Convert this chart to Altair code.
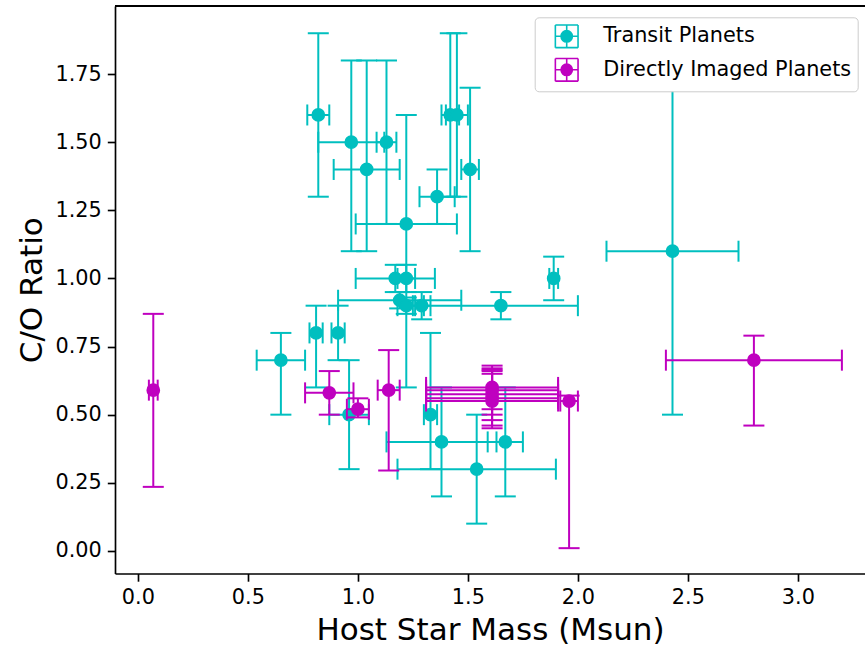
import altair as alt
import pandas as pd

# Transit planets: host mass (Msun) with symmetric error, C/O with lower/upper errors
transit_mass = [0.82, 0.97, 1.13, 1.04, 1.22, 1.36, 1.42, 1.45, 1.51,
                1.17, 1.22, 1.19, 1.22, 1.29, 1.65, 1.89,
                0.81, 0.91, 0.65, 0.96, 1.33, 1.38, 1.67, 1.54, 2.43]
transit_mass_err = [0.05, 0.15, 0.045, 0.15, 0.23, 0.08, 0.04, 0.05, 0.04,
                    0.18, 0.04, 0.28, 0.04, 0.04, 0.35, 0.02,
                    0.03, 0.03, 0.11, 0.09, 0.03, 0.25, 0.08, 0.36, 0.30]
transit_co = [1.60, 1.50, 1.50, 1.40, 1.20, 1.30, 1.60, 1.60, 1.40,
              1.00, 1.00, 0.92, 0.90, 0.90, 0.90, 1.00,
              0.80, 0.80, 0.70, 0.50, 0.50, 0.40, 0.40, 0.30, 1.10]
transit_co_lo = [0.30, 0.40, 0.30, 0.30, 0.60, 0.10, 0.30, 0.30, 0.30,
                 0.05, 0.05, 0.03, 0.03, 0.05, 0.05, 0.08,
                 0.20, 0.10, 0.20, 0.20, 0.20, 0.20, 0.20, 0.20, 0.60]
transit_co_hi = [0.30, 0.30, 0.30, 0.40, 0.40, 0.10, 0.30, 0.30, 0.30,
                 0.05, 0.05, 0.03, 0.03, 0.05, 0.05, 0.08,
                 0.10, 0.10, 0.10, 0.20, 0.30, 0.20, 0.20, 0.20, 0.60]

# Directly imaged planets
imaged_mass = [0.07, 0.87, 1.00, 1.14, 1.61, 1.61, 1.61, 1.61, 1.61, 1.96, 2.80]
imaged_mass_err = [0.02, 0.11, 0.05, 0.05, 0.30, 0.30, 0.30, 0.30, 0.30, 0.04, 0.40]
imaged_co = [0.59, 0.58, 0.52, 0.59, 0.60, 0.59, 0.575, 0.56, 0.55, 0.55, 0.70]
imaged_co_lo = [0.355, 0.08, 0.03, 0.295, 0.08, 0.09, 0.095, 0.10, 0.10, 0.54, 0.24]
imaged_co_hi = [0.28, 0.08, 0.04, 0.147, 0.08, 0.08, 0.09, 0.10, 0.10, 0.02, 0.09]

groups = ["Transit Planets", "Directly Imaged Planets"]
colors = ["#00BFBF", "#BF00BF"]


def frame(mass, merr, co, lo, hi, name):
    return pd.DataFrame({
        "mass": mass,
        "mass_lo": [m - e for m, e in zip(mass, merr)],
        "mass_hi": [m + e for m, e in zip(mass, merr)],
        "co": co,
        "co_lo": [c - e for c, e in zip(co, lo)],
        "co_hi": [c + e for c, e in zip(co, hi)],
        "group": name,
    })


df = pd.concat([
    frame(transit_mass, transit_mass_err, transit_co, transit_co_lo, transit_co_hi, groups[0]),
    frame(imaged_mass, imaged_mass_err, imaged_co, imaged_co_lo, imaged_co_hi, groups[1]),
], ignore_index=True)

W, H = 750, 567.5
xscale = alt.Scale(domain=[-0.104, 3.305], nice=False, zero=False)
yscale = alt.Scale(domain=[-0.083, 2.0], nice=False, zero=False)
xaxis = alt.Axis(values=[0, 0.5, 1.0, 1.5, 2.0, 2.5, 3.0], format=".1f", grid=False)
yaxis = alt.Axis(values=[0, 0.25, 0.5, 0.75, 1.0, 1.25, 1.5, 1.75], format=".2f", grid=False)
cscale = alt.Scale(domain=groups, range=colors)

XT = "Host Star Mass (Msun)"
YT = "C/O Ratio"


def X(f):
    return alt.X(f, type="quantitative", scale=xscale, axis=xaxis, title=XT)


def Y(f):
    return alt.Y(f, type="quantitative", scale=yscale, axis=yaxis, title=YT)


# errorbar-style legend glyph: cap box, cross and a filled dot
glyph = ("M-1,-1H1M1,-1V1M1,1H-1M-1,1V-1M0,-1V1M-1,0H1"
         "M0.5,0A0.5,0.5,0,1,1,-0.5,0A0.5,0.5,0,1,1,0.5,0Z")
leg = alt.Legend(
    title=None, orient="none", legendX=419.7, legendY=11.3,
    symbolType=glyph, symbolSize=515, symbolStrokeWidth=1.6,
    fillColor="white", strokeColor="#cccccc", cornerRadius=4,
    padding=6.5, rowPadding=2.5, symbolOffset=13, labelOffset=24,
    labelFont="DejaVu Sans", labelFontSize=20.8, labelColor="black", labelLimit=500,
)


def layers(name, colour):
    base = alt.Chart(df).transform_filter(alt.datum.group == name)
    vbar = base.mark_rule(strokeWidth=2, color=colour).encode(
        x=X("mass"), y=Y("co_lo"), y2="co_hi")
    hbar = base.mark_rule(strokeWidth=2, color=colour).encode(
        x=X("mass_lo"), x2="mass_hi", y=Y("co"))
    vcap = base.transform_fold(["co_lo", "co_hi"], as_=["end", "cap"]).mark_tick(
        orient="horizontal", size=21, thickness=2, opacity=1, color=colour
    ).encode(x=X("mass"), y=Y("cap"))
    hcap = base.transform_fold(["mass_lo", "mass_hi"], as_=["end", "cap"]).mark_tick(
        orient="vertical", size=21, thickness=2, opacity=1, color=colour
    ).encode(x=X("cap"), y=Y("co"))
    pts = base.mark_point(filled=True, size=150, strokeWidth=1.5, opacity=1).encode(
        x=X("mass"), y=Y("co"),
        fill=alt.Fill("group:N", scale=cscale, legend=leg),
        stroke=alt.Stroke("group:N", scale=cscale, legend=leg),
    )
    return [vbar, hbar, vcap, hcap, pts]


# top frame line (the plot has no right spine)
top = alt.Chart(df).mark_rule(color="black", strokeWidth=1.67).encode(
    y=alt.value(0), x=alt.value(0), x2=alt.value(W)
)

chart = alt.layer(
    *layers(groups[0], colors[0]), *layers(groups[1], colors[1]), top
).properties(
    width=W, height=H,
    autosize=alt.AutoSizeParams(type="none"),
    padding={"left": 115, "top": 6, "right": 0, "bottom": 78.5},
).configure(font="DejaVu Sans").configure_view(stroke=None).configure_axis(
    labelFont="DejaVu Sans", labelFontSize=20.8, labelColor="black",
    titleFont="DejaVu Sans", titleFontSize=31, titleFontWeight="normal", titleColor="black",
    domainColor="black", domainWidth=1.67, tickColor="black", tickWidth=1.67, tickSize=7.7,
    labelPadding=6,
).configure_axisX(titlePadding=8).configure_axisY(titlePadding=6)

chart.save("out.html", embed_options={"renderer": "svg", "actions": False})
